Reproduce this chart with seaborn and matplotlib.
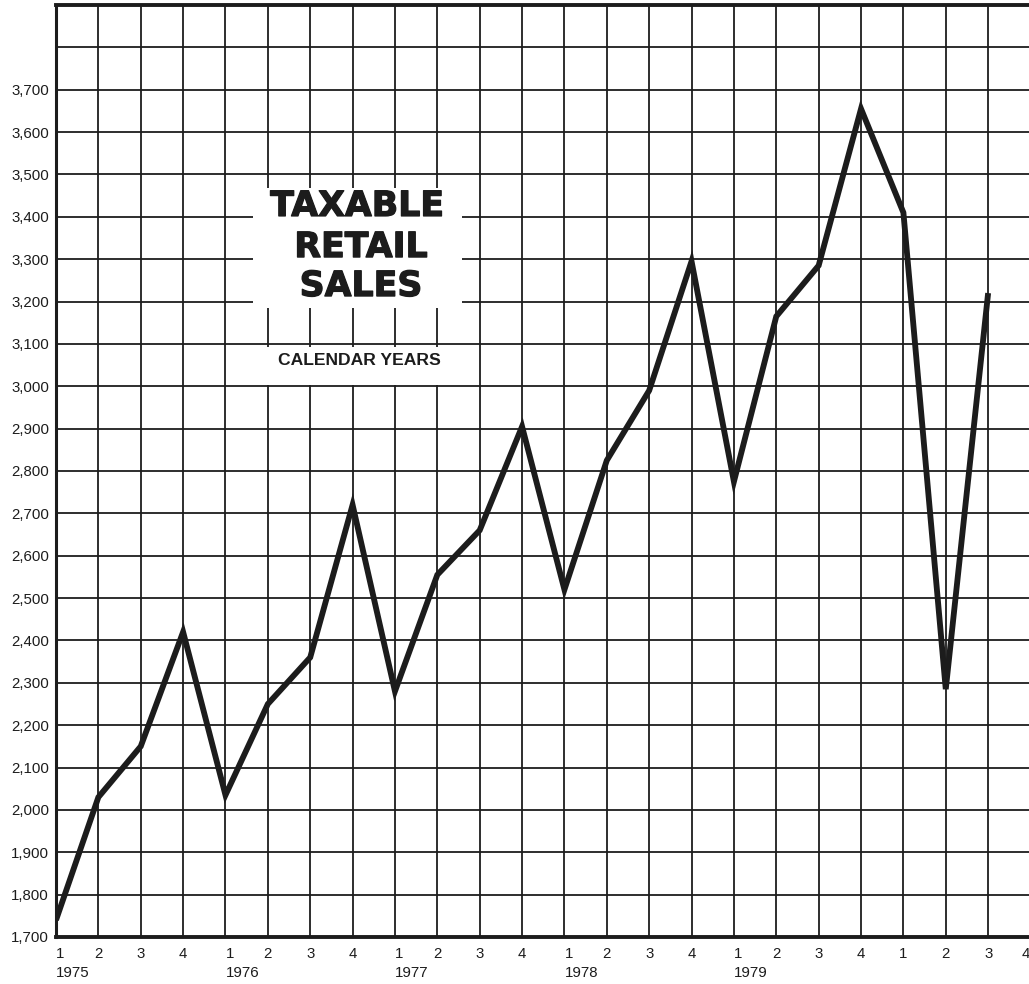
import pandas as pd
import matplotlib
matplotlib.use('Agg')
import matplotlib.pyplot as plt
import matplotlib.patheffects as pe
import seaborn as sns
from matplotlib.patches import Rectangle

# ======================================
# data
# ======================================

quarter_labels = ['1', '2', '3', '4'] * 6
year_labels = ['1975', '1976', '1977', '1978', '1979', '']

sales = [
    1740, 2030, 2150, 2420,
    2035, 2250, 2360, 2720,
    2280, 2555, 2660, 2905,
    2520, 2825, 2990, 3295,
    2775, 3165, 3285, 3655,
    3410, 2285, 3220
]

y_ticks = list(range(1700, 4000, 100))
y_labels = [f'{v:,}' if v <= 3700 else '' for v in y_ticks]

INK = '#1c1c1c'

sns.set_theme(style='white')
plt.rcParams['font.family'] = ['Liberation Sans', 'DejaVu Sans']

df = pd.DataFrame({
    'quarter': range(len(sales)),
    'sales': sales
})

fig = plt.figure(figsize=(10.29, 9.84), dpi=100)
ax = fig.add_axes([56 / 1029, 47 / 984, 974.5 / 1029, 932 / 984])

sns.lineplot(
    data=df,
    x='quarter',
    y='sales',
    color=INK,
    linewidth=4.2,
    solid_joinstyle='miter',
    solid_capstyle='butt',
    zorder=3,
    ax=ax
)

ax.set_xlim(0, 23)
ax.set_ylim(1700, 3900)

# tick labels: quarter number, year under each first quarter
xt = list(range(24))
ax.set_xticks(xt)
labels = []
for i, q in enumerate(quarter_labels):
    yr = year_labels[i // 4] if q == '1' else ''
    labels.append(f'{q}\n{yr}' if yr else q)
ax.set_xticklabels(labels, fontsize=10.8, color=INK, linespacing=1.5)
xtl = ax.get_xticklabels()
for t in xtl:
    if '\n' in t.get_text():
        t.set_ha('left')
# last label sits on the cropped right edge
xtl[-1].set_ha('right')

ax.set_yticks(y_ticks)
ax.set_yticklabels(y_labels, fontsize=10.8, color=INK)

ax.tick_params(axis='both', length=0)
ax.tick_params(axis='x', pad=7)
ax.tick_params(axis='y', pad=5)

ax.set_xlabel('')
ax.set_ylabel('')

ax.set_axisbelow(True)
ax.grid(True, color=INK, linewidth=1.3)

for side in ['left', 'bottom', 'top', 'right']:
    ax.spines[side].set_color(INK)
ax.spines['left'].set_linewidth(2.2)
ax.spines['bottom'].set_linewidth(2.8)
ax.spines['top'].set_linewidth(2.8)
ax.spines['right'].set_linewidth(2.2)

# pasted-on title label
ax.add_patch(Rectangle((4.64, 3185), 4.94, 283,
                       facecolor='white', edgecolor='none', zorder=1.5))
ax.add_patch(Rectangle((4.64, 3003), 4.94, 90,
                       facecolor='white', edgecolor='none', zorder=1.5))

heavy = [pe.withStroke(linewidth=0.9, foreground=INK)]
title_font = dict(ha='center', va='baseline', fontsize=25,
                  fontweight='bold', family='DejaVu Sans', color=INK,
                  zorder=4, path_effects=heavy)
ax.text(7.11, 3402, 'TAXABLE', **title_font)
ax.text(7.2, 3305, 'RETAIL', **title_font)
ax.text(7.2, 3213, 'SALES', **title_font)
ax.text(7.15, 3050, 'CALENDAR YEARS', ha='center', va='baseline',
        fontsize=12.6, fontweight='bold', color=INK, zorder=4)

fig.savefig('out.png', dpi=100, facecolor='white')
plt.close(fig)
